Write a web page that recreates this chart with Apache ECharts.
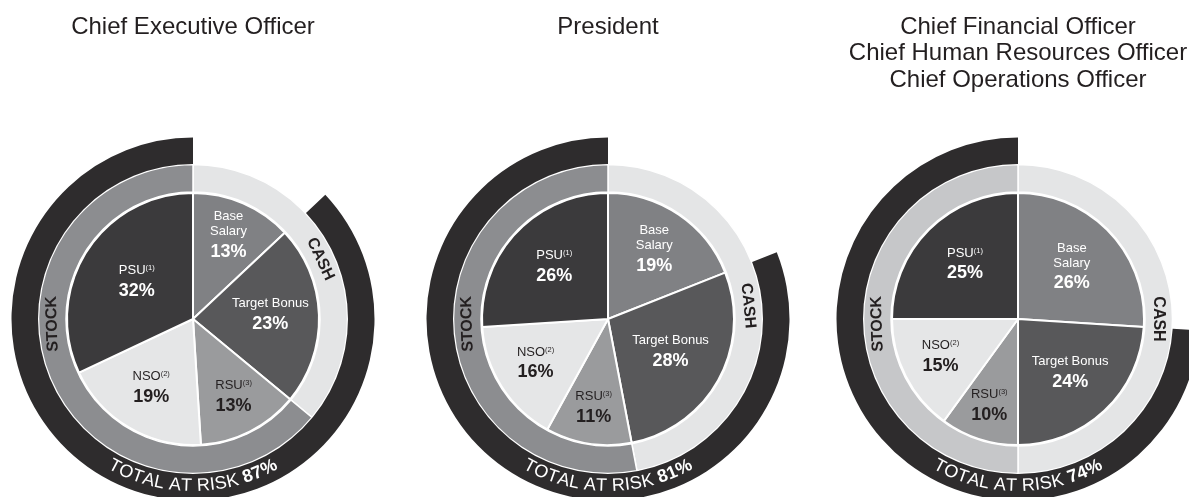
<!DOCTYPE html>
<html>
<head>
<meta charset="utf-8">
<script src="https://cdn.jsdelivr.net/npm/echarts@6/dist/echarts.min.js"></script>
<style>
  html, body { margin: 0; padding: 0; background: #ffffff; }
  #chart { width: 1189px; height: 497px; }
</style>
</head>
<body>
<div id="chart"></div>
<script>
// ---- data ----
const titles = [
  'Chief Executive Officer',
  'President',
  'Chief Financial Officer\nChief Human Resources Officer\nChief Operations Officer'
];
const components = ['Base Salary', 'Target Bonus', 'RSU', 'NSO', 'PSU'];
const componentLabels = ['Base\nSalary', 'Target Bonus', 'RSU', 'NSO', 'PSU'];
const footnotes = ['', '', '(3)', '(2)', '(1)'];
const ceoMix = [13, 23, 13, 19, 32];
const presidentMix = [19, 28, 11, 16, 26];
const officersMix = [26, 24, 10, 15, 25];
const payGroups = ['CASH', 'STOCK'];
const riskCaption = 'TOTAL AT RISK';

const mixes = [ceoMix, presidentMix, officersMix];

// ---- layout & style ----
const CX = [193, 608, 1018];
const CY = 319;
const R_PIE = 126;
const R_RING = [127, 154.5];
const R_RISK = [155, 181.5];
const R_RISK_TEXT = 167;
const FONT = '"Liberation Sans", Arial, Helvetica, sans-serif';
const DARK = '#231f20';
const SLICE_COLORS = ['#808184', '#58585a', '#9a9b9d', '#e5e6e7', '#3b3a3c'];
const LIGHT_TEXT = [true, true, false, false, true];
const CASH_RING = '#e4e5e6';
const STOCK_RING = ['#8c8d90', '#8c8d90', '#c6c7c9'];
const RISK_COLOR = '#2e2c2d';

const sum = a => a.reduce((s, v) => s + v, 0);

// mid angle of slice i, degrees clockwise from 12 o'clock
function midAngle(values, i) {
  let acc = 0;
  for (let k = 0; k < i; k++) acc += values[k];
  return (acc + values[i] / 2) / sum(values) * 360;
}
function polar(cx, cy, r, deg) {
  const a = deg * Math.PI / 180;
  return [cx + r * Math.sin(a), cy - r * Math.cos(a)];
}

function richSet(color) {
  return {
    n: { fontFamily: FONT, fontSize: 13, lineHeight: 15, color: color },
    s: { fontFamily: FONT, fontSize: 7.5, lineHeight: 15, verticalAlign: 'top', color: color, padding: [1, 0, 0, 0] },
    p: { fontFamily: FONT, fontSize: 18, fontWeight: 'bold', lineHeight: 26, color: color }
  };
}
const RICH = {};
[['w', '#ffffff'], ['k', DARK]].forEach(([suffix, color]) => {
  const set = richSet(color);
  Object.keys(set).forEach(key => { RICH[key + suffix] = set[key]; });
});

function sliceLabel(i, value) {
  const t = LIGHT_TEXT[i] ? 'w' : 'k';
  const lines = componentLabels[i].split('\n').map(line => `{n${t}|${line}}`);
  if (footnotes[i]) lines[lines.length - 1] += `{s${t}|${footnotes[i]}}`;
  return lines.join('\n') + `\n{p${t}|${value}%}`;
}

const series = [];
const graphic = [];
const measureCtx = document.createElement('canvas').getContext('2d');

mixes.forEach((mix, k) => {
  const cx = CX[k];
  const cash = mix[0] + mix[1];
  const stock = mix[2] + mix[3] + mix[4];
  const atRisk = 100 - mix[0];

  // compensation components
  series.push({
    type: 'pie',
    center: [cx, CY],
    radius: [0, R_PIE],
    startAngle: 90,
    clockwise: true,
    silent: true,
    animation: false,
    itemStyle: { borderColor: '#ffffff', borderWidth: 2 },
    label: {
      show: true,
      position: 'inside',
      align: 'center',
      verticalAlign: 'middle',
      formatter: p => sliceLabel(p.dataIndex, p.value),
      rich: RICH
    },
    labelLine: { show: false },
    labelLayout: p => {
      const i = p.dataIndex;
      const [x, y] = polar(cx, CY, 105 - 1.2 * mix[i], midAngle(mix, i));
      return { x: x, y: y, align: 'center', verticalAlign: 'middle' };
    },
    data: components.map((name, i) => ({
      name: name,
      value: mix[i],
      itemStyle: { color: SLICE_COLORS[i] }
    }))
  });

  // cash / stock ring
  const groupValues = [cash, stock];
  series.push({
    type: 'pie',
    center: [cx, CY],
    radius: R_RING,
    startAngle: 90,
    clockwise: true,
    silent: true,
    animation: false,
    itemStyle: { borderColor: '#ffffff', borderWidth: 1.5 },
    label: {
      show: true,
      position: 'inside',
      formatter: '{b}',
      fontFamily: FONT,
      fontWeight: 'bold',
      fontSize: 16,
      color: DARK
    },
    labelLine: { show: false },
    labelLayout: p => {
      const ang = p.dataIndex === 0 ? midAngle(groupValues, 0) : 268;
      const [x, y] = polar(cx, CY, (R_RING[0] + R_RING[1]) / 2, ang);
      return { x: x, y: y, rotate: -ang, align: 'center', verticalAlign: 'middle' };
    },
    data: [
      { name: payGroups[0], value: cash, itemStyle: { color: CASH_RING } },
      { name: payGroups[1], value: stock, itemStyle: { color: STOCK_RING[k] } }
    ]
  });

  // at-risk arc (everything except base salary)
  series.push({
    type: 'pie',
    center: [cx, CY],
    radius: R_RISK,
    startAngle: 90,
    clockwise: true,
    silent: true,
    animation: false,
    label: { show: false },
    labelLine: { show: false },
    itemStyle: { borderWidth: 0 },
    data: [
      { name: components[0], value: mix[0], itemStyle: { color: 'rgba(0,0,0,0)' } },
      { name: riskCaption, value: atRisk, itemStyle: { color: RISK_COLOR } }
    ]
  });

  // title
  graphic.push({
    type: 'text',
    x: cx,
    y: 14,
    silent: true,
    style: {
      text: titles[k],
      align: 'center',
      verticalAlign: 'top',
      fontFamily: FONT,
      fontSize: 24,
      lineHeight: 26.5,
      fill: DARK
    }
  });

  // caption set along the bottom of the at-risk arc
  const glyphs = [...(riskCaption + ' ')].map(ch => ({ ch: ch, bold: false }))
    .concat([...(atRisk + '%')].map(ch => ({ ch: ch, bold: true })));
  glyphs.forEach(g => {
    measureCtx.font = (g.bold ? 'bold ' : '') + '18px ' + FONT;
    g.w = measureCtx.measureText(g.ch).width;
  });
  const arcLen = sum(glyphs.map(g => g.w));
  const theta0 = Math.PI / 2 + arcLen / (2 * R_RISK_TEXT);
  let acc = 0;
  glyphs.forEach(g => {
    const theta = theta0 - (acc + g.w / 2) / R_RISK_TEXT;
    acc += g.w;
    if (g.ch === ' ') return;
    graphic.push({
      type: 'text',
      x: cx + R_RISK_TEXT * Math.cos(theta),
      y: CY + R_RISK_TEXT * Math.sin(theta),
      rotation: Math.PI / 2 - theta,
      silent: true,
      z: 10,
      style: {
        text: g.ch,
        align: 'center',
        verticalAlign: 'middle',
        fontFamily: FONT,
        fontSize: 18,
        fontWeight: g.bold ? 'bold' : 'normal',
        fill: '#ffffff'
      }
    });
  });
});

const chart = echarts.init(document.getElementById('chart'), null, { renderer: 'canvas' });
chart.setOption({
  backgroundColor: '#ffffff',
  animation: false,
  series: series,
  graphic: { elements: graphic }
});
</script>
</body>
</html>
